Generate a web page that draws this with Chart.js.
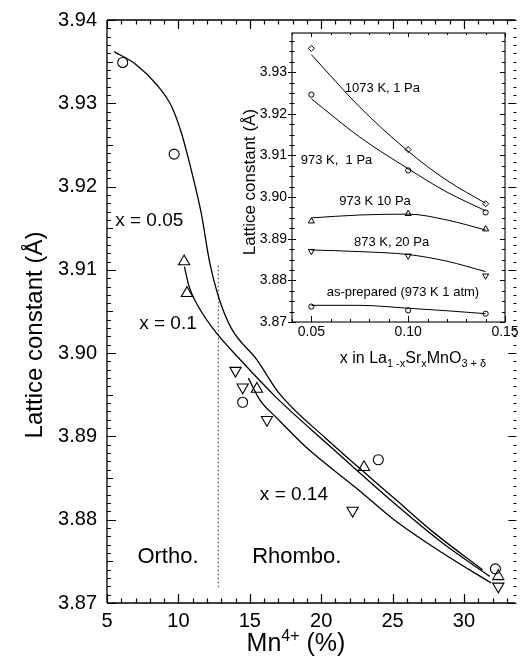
<!DOCTYPE html>
<html>
<head>
<meta charset="utf-8">
<script src="https://cdn.jsdelivr.net/npm/chart.js@4/dist/chart.umd.min.js"></script>
<style>
  html, body { margin: 0; padding: 0; background: #fff; }
  #wrap { position: relative; width: 523px; height: 658px; overflow: hidden; }
  canvas { position: absolute; }
</style>
</head>
<body>
<div id="wrap">
  <canvas id="main" width="523" height="658" style="left:0;top:0;width:523px;height:658px"></canvas>
  <canvas id="inset" width="293" height="345" style="left:230px;top:25px;width:293px;height:345px"></canvas>
</div>
<script>
// ---------------- main chart data (Mn4+ % vs lattice constant) ----------------
const mnCircle = [6.1, 9.7, 14.5, 24.0, 32.2];                 // x = 0.05
const lcCircle = [3.9349, 3.9239, 3.8941, 3.8872, 3.8741];
const mnUp = [10.4, 10.6, 15.5, 23.0, 32.4];                   // x = 0.1
const lcUp = [3.9110, 3.9072, 3.8957, 3.8863, 3.8732];
const mnDown = [14.0, 14.5, 16.2, 22.2, 32.4];                 // x = 0.14
const lcDown = [3.8979, 3.8959, 3.8920, 3.8811, 3.8720];

const fit005X = [5.5, 7.0, 8.5, 9.5, 10.2, 10.9, 11.6, 12.2, 12.8, 13.7, 15.5, 17.0, 20.3, 25.1, 28.0, 31.3];
const fit005Y = [3.9362, 3.9347, 3.9322, 3.9297, 3.9265, 3.9220, 3.9168, 3.9108, 3.9068, 3.9030, 3.8992, 3.8953, 3.8898, 3.8826, 3.8783, 3.8740];
const fit01X = [10.42, 10.75, 11.2, 12.4, 14.5, 16.9, 20.3, 25.1, 28.5, 31.8];
const fit01Y = [3.9104, 3.9080, 3.9062, 3.9030, 3.8989, 3.8946, 3.8893, 3.8820, 3.8772, 3.8732];
const fit014X = [14.9, 15.7, 16.9, 18.95, 22.6, 25.1, 28.5, 31.9];
const fit014Y = [3.8970, 3.8944, 3.8922, 3.8887, 3.8836, 3.8800, 3.8760, 3.8724];
const boundaryX = [12.8, 12.8];
const boundaryY = [3.9105, 3.8718];

const mainXTicks = [5, 10, 15, 20, 25, 30];
const mainYTicks = [3.87, 3.88, 3.89, 3.90, 3.91, 3.92, 3.93, 3.94];
const mainNotes = ['x = 0.05', 'x = 0.1', 'x = 0.14', 'Ortho.', 'Rhombo.'];

// ---------------- inset data (x in La1-xSrxMnO3+d) ----------------
const xSr = [0.05, 0.10, 0.14];
const lc1073_1Pa = [3.9357, 3.9114, 3.8984];
const lc973_1Pa = [3.9246, 3.9064, 3.8963];
const lc973_10Pa = [3.8942, 3.8960, 3.8923];
const lc873_20Pa = [3.8870, 3.8859, 3.8811];
const lcAsPrepared = [3.8737, 3.8728, 3.8720];

const fitInsetX = [0.05, 0.075, 0.10, 0.12, 0.14];
const fit1073 = [3.9342, 3.9216, 3.9110, 3.9040, 3.8985];
const fit973_1 = [3.9236, 3.9144, 3.9068, 3.9012, 3.8967];
const fit973_10 = [3.8950, 3.8957, 3.8959, 3.8945, 3.8921];
const fit873_20 = [3.8873, 3.8869, 3.8862, 3.8846, 3.8821];
const fitAsPrep = [3.8740, 3.8740, 3.8733, 3.8727, 3.8720];

const insetXTicks = [0.05, 0.10, 0.15];
const insetYTicks = [3.87, 3.88, 3.89, 3.90, 3.91, 3.92, 3.93];
const insetNotes = ['1073 K, 1 Pa', '973 K,  1 Pa', '973 K 10 Pa', '873 K, 20 Pa', 'as-prepared (973 K 1 atm)'];

// ---------------- helpers ----------------
const FF = '"Liberation Sans", Arial, Helvetica, sans-serif';
const pts = (xs, ys) => xs.map((x, i) => ({ x: x, y: ys[i] }));

function drawRich(ctx, runs, x, y, rot) {
  ctx.save();
  ctx.translate(x, y);
  if (rot) ctx.rotate(rot);
  ctx.fillStyle = '#000';
  ctx.textAlign = 'left';
  ctx.textBaseline = 'alphabetic';
  let total = 0;
  runs.forEach(r => { ctx.font = r.size + 'px ' + FF; r.w = ctx.measureText(r.t).width; total += r.w; });
  let cx = -total / 2;
  runs.forEach(r => { ctx.font = r.size + 'px ' + FF; ctx.fillText(r.t, cx, r.dy || 0); cx += r.w; });
  ctx.restore();
}
function seg(ctx, x1, y1, x2, y2) { ctx.moveTo(x1, y1); ctx.lineTo(x2, y2); }

const lineDs = (xs, ys, w) => ({
  data: pts(xs, ys), borderColor: '#000', borderWidth: w, pointRadius: 0,
  cubicInterpolationMode: 'monotone', fill: false, showLine: true
});
const markDs = (xs, ys, style, r, rot, bw) => ({
  data: pts(xs, ys), showLine: false, pointStyle: style, pointRadius: r,
  pointRotation: rot || 0, pointBorderColor: '#000', pointBackgroundColor: 'rgba(0,0,0,0)',
  pointBorderWidth: bw
});

// ---------------- main chart ----------------
const mainNotePos = [[7.96, 3.9153, 19], [9.27, 3.9029, 19], [18.09, 3.8824, 19], [9.27, 3.8748, 22], [18.29, 3.8748, 22]];

const mainPlugin = {
  id: 'mainPlugin',
  beforeDraw(c) {
    const ctx = c.ctx;
    ctx.save(); ctx.fillStyle = '#fff'; ctx.fillRect(0, 0, c.width, c.height); ctx.restore();
  },
  afterDraw(c) {
    const ctx = c.ctx, a = c.chartArea, xs = c.scales.x, ys = c.scales.y;
    ctx.save();
    ctx.strokeStyle = '#000';
    ctx.lineWidth = 1.3;
    ctx.beginPath();
    seg(ctx, a.left, a.bottom, a.right, a.bottom);
    seg(ctx, a.left, a.top, a.right, a.top);
    seg(ctx, a.left, a.top, a.left, a.bottom);
    ctx.stroke();
    ctx.lineWidth = 1.2;
    ctx.beginPath();
    for (let v = 5; v <= 33; v++) {
      const px = Math.round(xs.getPixelForValue(v)) + 0.5;
      const L = (v % 5 === 0) ? 9 : 4.5;
      seg(ctx, px, a.bottom, px, a.bottom - L);
      seg(ctx, px, a.top, px, a.top + L);
    }
    for (let i = 0; i <= 70; i++) {
      const py = Math.round(ys.getPixelForValue(3.87 + i * 0.001)) + 0.5;
      const L = (i % 10 === 0) ? 9 : (i % 5 === 0 ? 6 : 4);
      seg(ctx, a.left, py, a.left + L, py);
      seg(ctx, a.right + 1, py, a.right + 1 - (i % 10 === 0 ? 8 : 3), py);
    }
    ctx.stroke();
    ctx.restore();

    // axis titles
    drawRich(ctx, [{ t: 'Lattice constant (\u00C5)', size: 24 }], 42, 335, -Math.PI / 2);
    drawRich(ctx, [{ t: 'Mn', size: 25 }, { t: '4+', size: 16, dy: -10 }, { t: ' (%)', size: 25 }], 296, 651);

    // annotations
    mainNotes.forEach((t, i) => {
      const p = mainNotePos[i];
      drawRich(ctx, [{ t: t, size: p[2] }], xs.getPixelForValue(p[0]), ys.getPixelForValue(p[1]));
    });
  }
};

new Chart(document.getElementById('main'), {
  type: 'line',
  data: {
    datasets: [
      lineDs(fit005X, fit005Y, 1.3),
      lineDs(fit01X, fit01Y, 1.3),
      lineDs(fit014X, fit014Y, 1.3),
      Object.assign(lineDs(boundaryX, boundaryY, 1.1), { borderDash: [1.5, 2.5], borderColor: '#444', cubicInterpolationMode: 'default', tension: 0 }),
      markDs(mnCircle, lcCircle, 'circle', 5, 0, 1.1),
      markDs(mnUp, lcUp, 'triangle', 6.5, 0, 1.1),
      markDs(mnDown, lcDown, 'triangle', 6.5, 180, 1.1)
    ]
  },
  options: {
    responsive: false, animation: false, events: [],
    layout: { padding: { left: 0, top: 20, right: 1, bottom: 0 } },
    plugins: { legend: { display: false }, tooltip: { enabled: false } },
    scales: {
      x: {
        type: 'linear', min: 5, max: 33.6,
        afterBuildTicks: s => { s.ticks = mainXTicks.map(v => ({ value: v })); },
        afterFit: s => { s.height = 55; s.paddingLeft = 0; s.paddingRight = 0; },
        grid: { display: false, drawTicks: false }, border: { display: false },
        ticks: { color: '#000', font: { family: FF, size: 20 }, padding: 6, maxRotation: 0, autoSkip: false, callback: v => String(v) }
      },
      y: {
        type: 'linear', min: 3.87, max: 3.94,
        afterBuildTicks: s => { s.ticks = mainYTicks.map(v => ({ value: v })); },
        afterFit: s => { s.width = 107; s.paddingTop = 0; s.paddingBottom = 0; },
        grid: { display: false, drawTicks: false }, border: { display: false },
        ticks: { color: '#000', font: { family: FF, size: 20 }, padding: 10, autoSkip: false, callback: v => v.toFixed(2) }
      }
    }
  },
  plugins: [mainPlugin]
});

// ---------------- inset chart ----------------
const insetNotePos = [[0.0867, 3.9252], [0.0630, 3.9080], [0.0829, 3.8981], [0.0914, 3.8883], [0.0973, 3.8762]];

const insetPlugin = {
  id: 'insetPlugin',
  beforeDraw(c) {
    const ctx = c.ctx, a = c.chartArea;
    ctx.save(); ctx.fillStyle = '#fff'; ctx.fillRect(a.left, a.top, a.right - a.left, a.bottom - a.top); ctx.restore();
  },
  afterDraw(c) {
    const ctx = c.ctx, a = c.chartArea, xs = c.scales.x, ys = c.scales.y;
    ctx.save();
    ctx.strokeStyle = '#000';
    ctx.lineWidth = 1.1;
    ctx.strokeRect(a.left, a.top, a.right - a.left, a.bottom - a.top);
    ctx.lineWidth = 1;
    ctx.beginPath();
    for (let i = 4; i <= 15; i++) {
      const px = Math.round(xs.getPixelForValue(i * 0.01)) + 0.5;
      const L = (i % 5 === 0) ? 6 : 3;
      seg(ctx, px, a.bottom, px, a.bottom - L);
      seg(ctx, px, a.top, px, a.top + (i % 5 === 0 ? 4 : 2));
    }
    for (let i = 0; i <= 27; i++) {
      const py = Math.round(ys.getPixelForValue(3.87 + i * 0.0025)) + 0.5;
      const L = (i % 4 === 0) ? 4 : 2.5;
      seg(ctx, a.left - L, py, a.left + L, py);
      seg(ctx, a.right, py, a.right - (i % 4 === 0 ? 5 : 3), py);
    }
    ctx.stroke();
    ctx.restore();

    drawRich(ctx, [{ t: 'Lattice constant (\u00C5)', size: 17 }], 24.5, 157, -Math.PI / 2);
    drawRich(ctx, [
      { t: 'x in La', size: 16 }, { t: '1 -x', size: 11, dy: 4 },
      { t: 'Sr', size: 16 }, { t: 'x', size: 11, dy: 4 },
      { t: 'MnO', size: 16 }, { t: '3 + \u03B4', size: 11, dy: 4 }
    ], 183, 338);

    insetNotes.forEach((t, i) => {
      const p = insetNotePos[i];
      drawRich(ctx, [{ t: t, size: 13 }], xs.getPixelForValue(p[0]), ys.getPixelForValue(p[1]));
    });
  }
};

new Chart(document.getElementById('inset'), {
  type: 'line',
  data: {
    datasets: [
      lineDs(fitInsetX, fit1073, 1),
      lineDs(fitInsetX, fit973_1, 1),
      lineDs(fitInsetX, fit973_10, 1),
      lineDs(fitInsetX, fit873_20, 1),
      lineDs(fitInsetX, fitAsPrep, 1),
      markDs(xSr, lc1073_1Pa, 'rectRot', 3, 0, 1),
      markDs(xSr, lc973_1Pa, 'circle', 2.6, 0, 1),
      markDs(xSr, lc973_10Pa, 'triangle', 3.5, 0, 1),
      markDs(xSr, lc873_20Pa, 'triangle', 3.5, 180, 1),
      markDs(xSr, lcAsPrepared, 'circle', 2.6, 0, 1)
    ]
  },
  options: {
    responsive: false, animation: false, events: [],
    layout: { padding: { left: 0, top: 8, right: 18, bottom: 0 } },
    plugins: { legend: { display: false }, tooltip: { enabled: false } },
    scales: {
      x: {
        type: 'linear', min: 0.04, max: 0.15,
        afterBuildTicks: s => { s.ticks = insetXTicks.map(v => ({ value: v })); },
        afterFit: s => { s.height = 48; s.paddingLeft = 0; s.paddingRight = 0; },
        grid: { display: false, drawTicks: false }, border: { display: false },
        ticks: { color: '#000', font: { family: FF, size: 14 }, padding: 2, maxRotation: 0, autoSkip: false, callback: v => v.toFixed(2) }
      },
      y: {
        type: 'linear', min: 3.87, max: 3.9394,
        afterBuildTicks: s => { s.ticks = insetYTicks.map(v => ({ value: v })); },
        afterFit: s => { s.width = 62; s.paddingTop = 0; s.paddingBottom = 0; },
        grid: { display: false, drawTicks: false }, border: { display: false },
        ticks: { color: '#000', font: { family: FF, size: 14 }, padding: 5, autoSkip: false, callback: v => v.toFixed(2) }
      }
    }
  },
  plugins: [insetPlugin]
});
</script>
</body>
</html>
